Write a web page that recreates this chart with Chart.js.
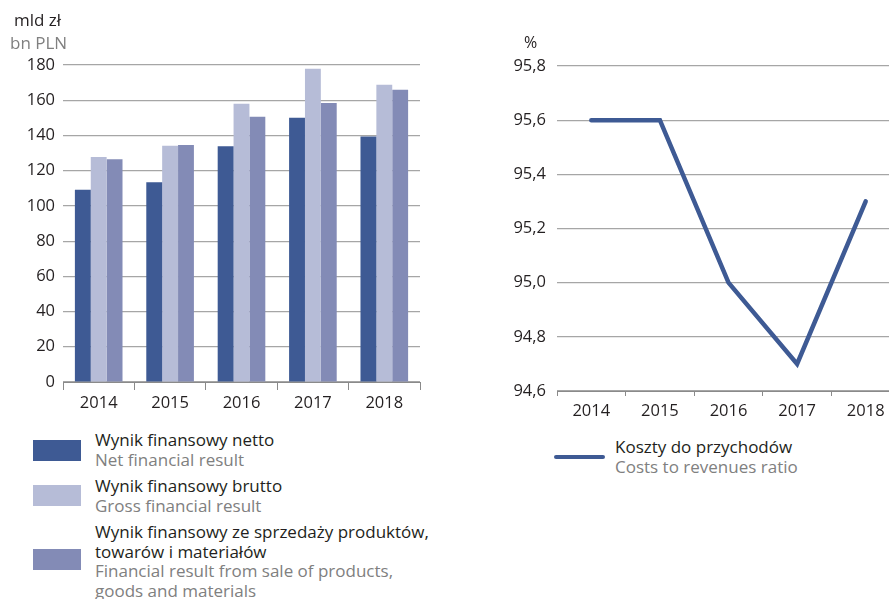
<!DOCTYPE html>
<html>
<head>
<meta charset="utf-8">
<script src="https://cdn.jsdelivr.net/npm/chart.js@4"></script>
<style>
  html, body { margin: 0; padding: 0; background: #fff; }
  body { width: 889px; height: 599px; overflow: hidden; position: relative; font-family: 'Open Sans', sans-serif; color: #231f20; }
  .box { position: absolute; }
  .t { position: absolute; font-size: 17px; line-height: 19.5px; white-space: nowrap; }
  .pl { color: #231f20; }
  .en { color: #808080; }
  .sw { position: absolute; width: 48px; height: 21px; }
</style>
</head>
<body>
<div class="box" style="left:0;top:0;width:440px;height:420px"><canvas id="barChart"></canvas></div>
<div class="box" style="left:480px;top:0;width:420px;height:430px"><canvas id="lineChart"></canvas></div>

<div class="t pl" style="left:14px;top:10px">mld zł</div>
<div class="t en" style="left:10px;top:33px">bn PLN</div>
<div class="t pl" style="left:524px;top:33px;font-size:16px">%</div>

<div id="barLegend"></div>
<div id="lineLegend"></div>

<script>
// data
const years = ['2014', '2015', '2016', '2017', '2018'];
const netResult = [109.2, 113.4, 133.9, 150.0, 139.4];
const grossResult = [127.8, 134.1, 158.0, 177.9, 168.8];
const saleResult = [126.5, 134.6, 150.6, 158.4, 165.9];
const costRatio = [95.6, 95.6, 95.0, 94.7, 95.3];

const barSeries = [
  { pl: ['Wynik finansowy netto'], en: ['Net financial result'], data: netResult, color: '#3e5a94' },
  { pl: ['Wynik finansowy brutto'], en: ['Gross financial result'], data: grossResult, color: '#b6bcd7' },
  { pl: ['Wynik finansowy ze sprzedaży produktów,', 'towarów i materiałów'], en: ['Financial result from sale of products,', 'goods and materials'], data: saleResult, color: '#838bb6' }
];

const $ = (id) => document.getElementById(id);
const tickFont = { family: "'Open Sans', sans-serif", size: 16.5 };
const textColor = '#231f20';
const gridColor = '#a6a6a6';

// bar chart
new Chart($('barChart'), {
  type: 'bar',
  data: {
    labels: years,
    datasets: barSeries.map(s => ({
      label: s.pl.join(' '),
      data: s.data,
      backgroundColor: s.color,
      barPercentage: 1,
      categoryPercentage: 0.667
    }))
  },
  options: {
    responsive: true,
    maintainAspectRatio: false,
    animation: false,
    layout: { padding: { left: 0, right: 20, top: 65, bottom: 0 } },
    plugins: { legend: { display: false }, tooltip: { enabled: false } },
    scales: {
      x: {
        grid: { drawOnChartArea: false, drawTicks: true, tickLength: 8, color: '#8a8a8a', offset: true },
        border: { display: true, color: '#8a8a8a', width: 1 },
        ticks: { font: tickFont, color: textColor, padding: 3, maxRotation: 0 },
        afterFit: (s) => { s.height = 38; }
      },
      y: {
        min: 0, max: 180,
        grid: { color: gridColor, lineWidth: 1.2, drawTicks: false },
        border: { display: false },
        ticks: { stepSize: 20, font: tickFont, color: textColor, padding: 8 },
        afterFit: (s) => { s.width = 63; }
      }
    }
  }
});

// line chart
new Chart($('lineChart'), {
  type: 'line',
  data: {
    labels: years,
    datasets: [{
      label: 'Koszty do przychodów',
      data: costRatio,
      borderColor: '#3e5a94',
      borderWidth: 4.5,
      borderCapStyle: 'round',
      borderJoinStyle: 'miter',
      pointRadius: 0,
      tension: 0,
      fill: false
    }]
  },
  options: {
    responsive: true,
    maintainAspectRatio: false,
    animation: false,
    layout: { padding: { left: 0, right: 0, top: 66, bottom: 0 } },
    plugins: { legend: { display: false }, tooltip: { enabled: false } },
    scales: {
      x: {
        offset: true,
        grid: { drawOnChartArea: false, drawTicks: true, tickLength: 5, color: '#8a8a8a', offset: true },
        border: { display: true, color: '#8a8a8a', width: 1 },
        ticks: { font: tickFont, color: textColor, padding: 5, maxRotation: 0 },
        afterFit: (s) => { s.height = 39; }
      },
      y: {
        min: 94.6, max: 95.8,
        grid: { color: gridColor, lineWidth: 1.2, drawTicks: false },
        border: { display: false },
        ticks: {
          stepSize: 0.2, font: tickFont, color: textColor, padding: 11,
          callback: v => v.toFixed(1).replace('.', ',')
        },
        afterFit: (s) => { s.width = 77; }
      }
    }
  }
});

// legends (html)
const legendTops = [[430, 440], [476, 485], [522, 549]];
let html = '';
barSeries.forEach((s, i) => {
  const [textTop, swTop] = legendTops[i];
  html += `<div class="sw" style="left:33px;top:${swTop}px;background:${s.color}"></div>`;
  let y = textTop;
  s.pl.forEach(line => { html += `<div class="t pl" style="left:95px;top:${y}px">${line}</div>`; y += 19.5; });
  s.en.forEach(line => { html += `<div class="t en" style="left:95px;top:${y}px">${line}</div>`; y += 19.5; });
});
$('barLegend').innerHTML = html;

$('lineLegend').innerHTML =
  `<div class="box" style="left:554px;top:455px;width:51px;height:4px;border-radius:2px;background:#3e5a94"></div>` +
  `<div class="t pl" style="left:615px;top:437px">Koszty do przychodów</div>` +
  `<div class="t en" style="left:615px;top:457px">Costs to revenues ratio</div>`;
</script>
</body>
</html>
